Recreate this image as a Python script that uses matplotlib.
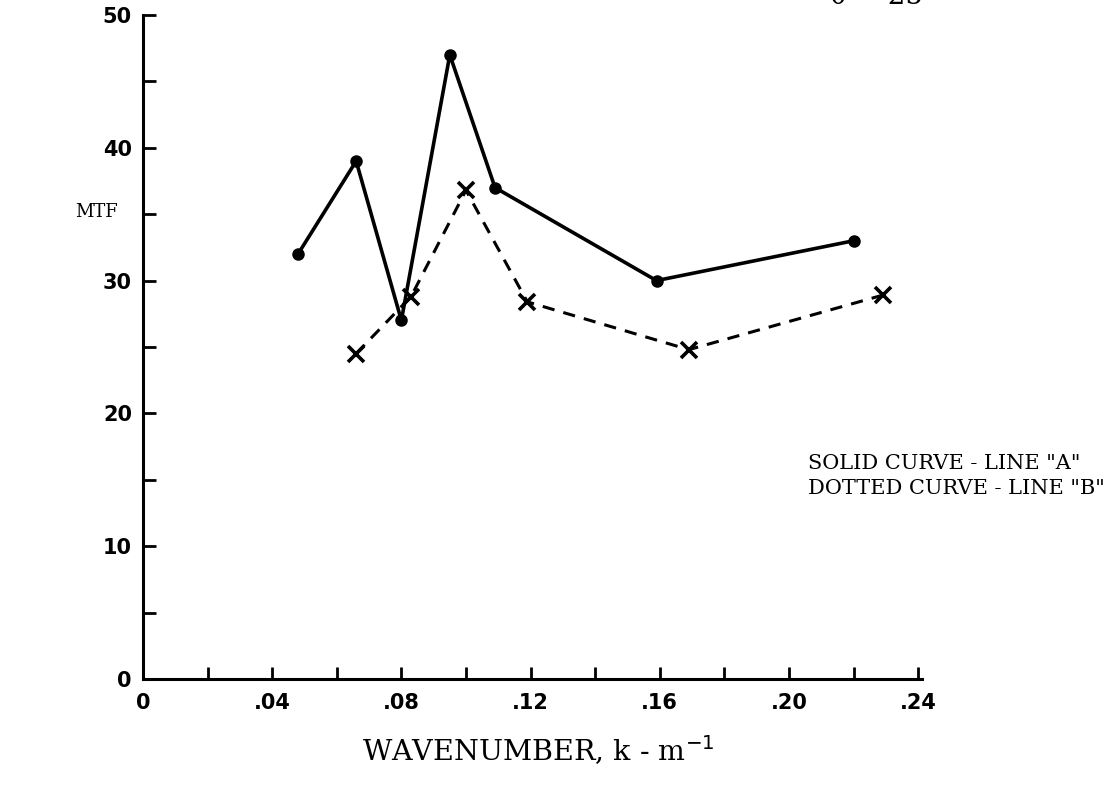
import matplotlib
matplotlib.use("Agg")
import matplotlib.pyplot as plt
import numpy as np

# Line "A" (solid, dots)
line_a_k = [0.048, 0.066, 0.080, 0.095, 0.109, 0.159, 0.220]
line_a_mtf = [32, 39, 27, 47, 37, 30, 33]

# Line "B" (dashed, crosses)
line_b_k = [0.066, 0.083, 0.100, 0.119, 0.169, 0.229]
line_b_mtf = [24.5, 28.8, 36.8, 28.4, 24.8, 28.9]

x_ticks = [0, 0.02, 0.04, 0.06, 0.08, 0.10, 0.12, 0.14, 0.16, 0.18, 0.20, 0.22, 0.24]
x_tick_labels = ["0", "", ".04", "", ".08", "", ".12", "", ".16", "", ".20", "", ".24"]
y_ticks = [0, 5, 10, 15, 20, 25, 30, 35, 40, 45, 50]
y_tick_labels = ["0", "", "10", "", "20", "", "30", "", "40", "", "50"]

serif = ["DejaVu Serif"]

fig = plt.figure(figsize=(11.11, 7.86), dpi=100)
ax = fig.add_axes([143 / 1111, 1 - 679 / 786, (922 - 143) / 1111, (679 - 15) / 786])

ax.plot(line_a_k, line_a_mtf, color="black", linewidth=2.6, marker="o",
        markersize=8, solid_capstyle="round")
ax.plot(line_b_k, line_b_mtf, color="black", linewidth=2.2, linestyle=(0, (4, 3)),
        marker="x", markersize=11, markeredgewidth=2.6)

ax.set_xlim(0, 0.2412)
ax.set_ylim(0, 50)
ax.spines["top"].set_visible(False)
ax.spines["right"].set_visible(False)
ax.spines["left"].set_linewidth(2.2)
ax.spines["bottom"].set_linewidth(2.2)

ax.set_xticks(x_ticks)
ax.set_xticklabels(x_tick_labels)
ax.set_yticks(y_ticks)
ax.set_yticklabels(y_tick_labels)
ax.tick_params(direction="in", length=9, width=2, colors="black")
ax.tick_params(axis="x", pad=10)
ax.tick_params(axis="y", pad=8)
for lbl in ax.get_xticklabels() + ax.get_yticklabels():
    lbl.set_fontweight("bold")
    lbl.set_fontsize(15)
    lbl.set_family("DejaVu Sans")

fig.text(97 / 1111, 1 - 212 / 786, "MTF", fontsize=13, family=serif,
         ha="center", va="center")
fig.text(538 / 1111, 1 - 750 / 786, r"WAVENUMBER, k - m$^{-1}$", fontsize=20.5,
         family=serif, ha="center", va="center")
fig.text(808 / 1111, 1 - 476 / 786, 'SOLID CURVE - LINE "A"\nDOTTED CURVE - LINE "B"',
         fontsize=15, family=serif, ha="left", va="center", linespacing=1.35)
fig.text(830 / 1111, 1 - 4 / 786, "\u03b8 = 25", fontsize=20, family=serif,
         ha="left", va="baseline")

fig.savefig("out.png", dpi=100)
